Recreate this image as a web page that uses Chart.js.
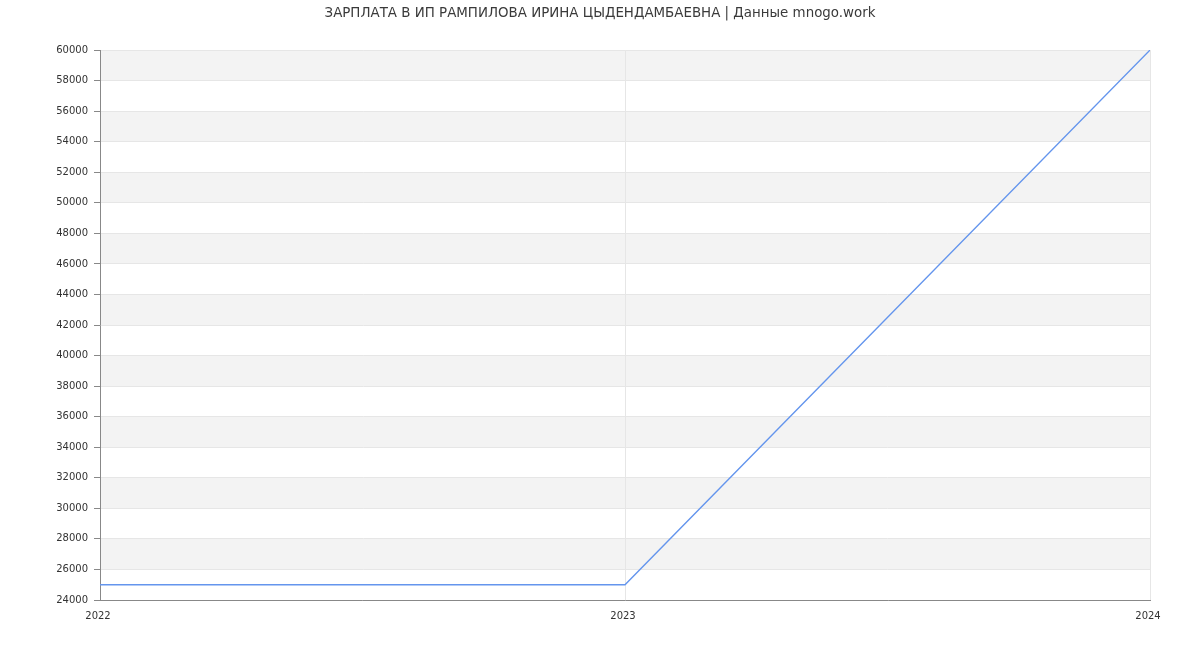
<!DOCTYPE html>
<html>
<head>
<meta charset="utf-8">
<script src="https://cdn.jsdelivr.net/npm/chart.js@4"></script>
<style>
html,body{margin:0;padding:0;background:#fff;}
#wrap{width:1200px;height:650px;}
</style>
</head>
<body>
<div id="wrap"><canvas id="c" width="1200" height="650"></canvas></div>
<script>
const titleText = "ЗАРПЛАТА В ИП РАМПИЛОВА ИРИНА ЦЫДЕНДАМБАЕВНА | Данные mnogo.work";
const years = [2022, 2023, 2024];
const salaries = [25000, 25000, 60000];
const yMin = 24000, yMax = 60000, yStep = 2000;

const bandPlugin = {
  id: 'bands',
  beforeDraw(chart) {
    const {ctx, chartArea, scales} = chart;
    const y = scales.y;
    ctx.save();
    ctx.fillStyle = '#f3f3f3';
    let i = 0;
    for (let v = yMax; v > yMin; v -= yStep, i++) {
      if (i % 2 === 0) {
        const top = y.getPixelForValue(v);
        const bot = y.getPixelForValue(v - yStep);
        ctx.fillRect(chartArea.left, top, chartArea.right - chartArea.left, bot - top);
      }
    }
    ctx.restore();
  }
};

new Chart(document.getElementById('c'), {
  type: 'line',
  data: {
    datasets: [{
      data: years.map((x, i) => ({x: x, y: salaries[i]})),
      borderColor: '#6495ed',
      borderWidth: 1.4,
      pointRadius: 0,
      fill: false,
      tension: 0,
      yAxisID: 'y'
    }]
  },
  options: {
    responsive: false,
    animation: false,
    layout: {padding: 0},
    plugins: {
      legend: {display: false},
      tooltip: {enabled: false},
      title: {
        display: true,
        text: titleText,
        color: '#3a3a3a',
        font: {family: 'DejaVu Sans', size: 13.4, weight: 'normal'},
        padding: {top: 5, bottom: 29}
      }
    },
    scales: {
      x: {
        type: 'linear',
        min: 2022, max: 2024,
        afterFit(s) { s.height = 50; },
        ticks: {
          stepSize: 1,
          color: '#333',
          font: {family: 'DejaVu Sans', size: 10},
          padding: 10,
          labelOffset: -2,
          maxRotation: 0,
          callback: v => String(v)
        },
        grid: {color: '#e6e6e6', drawTicks: false},
        border: {color: '#888'}
      },
      y: {
        min: yMin, max: yMax,
        afterFit(s) { s.width = 100; },
        ticks: {
          stepSize: yStep,
          color: '#333',
          font: {family: 'DejaVu Sans', size: 10},
          padding: 6,
          callback: v => String(v)
        },
        grid: {color: '#e6e6e6', tickColor: '#888', tickLength: 6},
        border: {color: '#888'}
      },
      yr: {
        position: 'right',
        display: true,
        min: yMin, max: yMax,
        afterFit(s) { s.width = 50; },
        ticks: {display: false},
        grid: {display: false, drawTicks: false},
        border: {display: false}
      }
    }
  },
  plugins: [bandPlugin]
});
</script>
</body>
</html>
